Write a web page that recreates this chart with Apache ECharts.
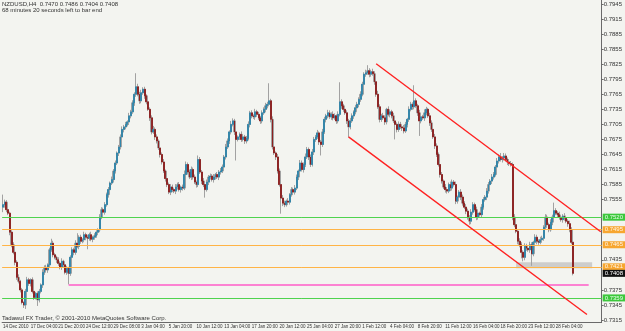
<!DOCTYPE html>
<html>
<head>
<meta charset="utf-8">
<title>NZDUSD,H4</title>
<script src="https://cdn.jsdelivr.net/npm/echarts@6/dist/echarts.min.js"></script>
<style>
  html, body { margin: 0; padding: 0; background: #f3f4f0; }
  #chart { width: 625px; height: 331px; }
</style>
</head>
<body>
<div id="chart"></div>
<script>
  // NZDUSD H4 candles, prices kept in pips above 0.7000
  var firstOpen = 540
  var closePips = [
    545,550,535,528,490,465,450,430,400,392,
    375,350,345,372,395,388,395,372,360,368,
    355,372,385,410,420,415,425,455,468,445,
    440,435,428,420,432,425,410,418,408,440,
    455,450,468,462,480,472,475,485,480,478,
    485,476,480,483,490,495,520,535,530,545,
    565,575,588,595,612,628,648,660,680,695,
    700,705,710,722,730,748,765,780,765,752,
    768,775,762,750,735,718,690,695,680,672,
    658,645,630,612,597,585,570,580,575,572,
    580,585,575,580,578,605,625,610,600,615,
    600,590,585,635,610,592,585,575,590,600,
    602,595,600,605,600,610,612,620,640,660,
    672,690,705,712,690,675,680,685,675,680,
    672,677,705,728,722,720,730,725,718,712,
    728,735,742,745,752,715,660,648,640,612,
    585,558,548,545,552,550,565,575,570,578,
    600,612,628,615,625,640,655,640,625,650,
    675,680,688,670,665,690,715,722,728,720,
    725,718,722,712,725,750,742,735,728,712,
    700,712,722,730,738,745,755,765,785,805,
    808,812,805,810,806,790,765,740,715,722,
    718,710,735,725,730,722,712,705,695,705,
    700,698,692,705,715,735,745,740,752,742,
    728,712,720,718,728,735,722,708,695,680,
    662,645,625,605,592,580,575,572,585,578,
    590,585,552,560,570,560,548,540,532,520,
    512,530,545,535,520,528,525,540,555,560,
    572,585,592,600,605,620,632,640,635,638,
    642,635,630,627,625,520,505,492,472,465,
    450,440,462,458,455,465,447,470,480,472,
    470,475,478,500,520,505,495,510,520,533,
    528,525,520,515,522,518,512,507,495,470,
    408
  ]
  // wick length above / below the body, pips
  var wickUp = [
    20,5,4,6,3,4,5,3,4,6, 3,4,2,5,6,4,3,5,4,3, 4,5,3,6,4,5,3,4,9,5, 4,3,5,4,6,3,4,5,3,4,
    5,4,6,20,4,5,3,6,4,5, 4,6,3,5,4,3,6,5,4,5, 4,5,3,6,4,5,3,4,5,6, 4,5,3,6,4,5,4,27,6,5,
    6,4,5,3,6,4,5,7,4,5, 3,5,4,6,3,5,4,6,5,4, 6,4,5,3,5,8,6,4,5,6, 4,5,3,8,5,4,6,3,5,4,
    5,4,6,3,5,4,6,5,4,6, 5,3,7,5,4,6,3,4,6,5, 4,5,6,4,5,3,6,4,5,4, 5,4,6,5,35,4,6,5,3,6,
    5,4,6,5,3,6,3,5,4,6, 5,3,6,5,4,7,5,4,5,6, 5,4,6,3,4,6,5,4,6,5, 4,6,5,3,6,39,5,4,6,5,
    4,6,5,3,6,5,4,6,5,4, 6,11,5,4,6,5,4,7,5,4, 6,5,3,6,5,4,6,5,4,6, 5,4,6,5,3,6,5,4,31,5,
    4,6,5,4,7,5,3,6,5,4, 6,5,4,6,5,3,6,5,4,6, 5,4,6,3,4,6,5,4,6,5, 4,6,5,4,6,5,3,6,5,4,
    6,5,4,6,5,4,6,5,8,4, 6,5,4,6,5,4,6,5,3,6, 5,4,6,5,4,6,5,3,6,5, 4,6,5,4,6,5,4,6,5,16,
    5,4,6,5,4,6,5,4,6,5, 16
  ]
  var wickDn = [
    10,6,5,4,6,5,4,6,5,4, 5,4,6,8,4,5,6,4,5,4, 12,5,4,6,5,4,6,5,4,5, 4,6,5,4,5,6,4,5,22,5,
    4,6,5,4,6,5,4,5,6,22, 5,4,6,5,4,6,5,4,6,5, 4,6,5,4,6,5,4,6,5,4, 6,5,4,6,5,4,6,5,4,6,
    5,4,6,5,3,6,5,4,6,5, 4,6,5,4,6,5,4,6,5,4, 6,5,4,6,5,4,6,5,4,6, 5,4,6,5,4,6,5,16,4,6,
    5,4,6,5,4,6,5,4,6,5, 4,6,5,4,6,42,4,6,5,4, 6,5,4,6,5,4,6,5,4,6, 5,4,6,5,4,6,5,4,6,5,
    4,31,6,5,4,6,5,4,6,5, 4,6,5,4,6,5,4,6,5,4, 6,5,4,6,22,5,4,6,5,4, 6,5,4,6,5,4,6,5,4,6,
    21,5,4,6,5,4,6,5,4,6, 5,4,6,5,4,6,5,4,6,5, 4,6,5,4,6,5,4,30,6,5, 4,6,5,4,6,5,4,6,5,4,
    6,30,5,4,6,5,4,6,5,4, 6,5,4,6,5,4,6,5,4,6, 5,4,6,5,4,6,5,4,6,5, 7,6,5,4,6,5,4,6,5,4,
    6,5,4,6,5,4,6,5,4,6, 5,4,6,5,4,6,5,4,6,5, 12,8,6,5,4,6,24,5,4,6, 5,4,6,5,4,6,5,4,6,5,
    4,6,5,4,6,5,4,6,5,4, 4
  ]
  var tickLabels = ['14 Dec 2010','17 Dec 04:00','21 Dec 20:00','24 Dec 12:00','29 Dec 08:00','3 Jan 04:00',
    '5 Jan 20:00','10 Jan 12:00','13 Jan 04:00','17 Jan 20:00','20 Jan 12:00','25 Jan 04:00','27 Jan 20:00',
    '1 Feb 12:00','4 Feb 04:00','8 Feb 20:00','11 Feb 12:00','16 Feb 04:00','18 Feb 20:00','23 Feb 12:00','28 Feb 04:00']
  var labelStep = 16
  var shiftBars = 16
  var priceLabels = ['0.7315','0.7345','0.7375','0.7435','0.7555','0.7585','0.7615','0.7645','0.7675','0.7705',
    '0.7735','0.7765','0.7795','0.7825','0.7855','0.7885','0.7915','0.7945']
  var priceMin = 0.7311
  var priceMax = 0.7953

  var greenLevels = [0.7520, 0.7359]
  var orangeLevels = [0.7495, 0.7465, 0.7421]
  var bidPrice = 0.7408
  var pinkLine = [[38, 0.7386], [339, 0.7386]]
  var channelUpper = [[216, 0.7826], [346, 0.7491]]
  var channelLower = [[200, 0.7680], [338, 0.7326]]
  var greyZone = [[297, 0.7430], [341, 0.7418]]

  var headerText = 'NZDUSD,H4  0.7470 0.7486 0.7404 0.7408'
  var timerText = '68 minutes 20 seconds left to bar end'
  var footText = 'Tadawul FX Trader, \u00a9 2001-2010 MetaQuotes Software Corp.'

  function px (p) { return (7000 + p) / 10000 }

  var cats = []
  var wickData = []
  var bodyData = []
  var prev = firstOpen
  for (var i = 0; i < closePips.length; i++) {
    var o = prev, c = closePips[i]
    var hi = Math.max(o, c), lo = Math.min(o, c)
    wickData.push([px(o), px(c), px(lo - wickDn[i]), px(hi + wickUp[i])])
    bodyData.push([px(o), px(c), px(lo), px(hi)])
    prev = c
  }
  for (var k = 0; k < closePips.length + shiftBars; k++) cats.push(String(k))

  var font = 'Liberation Sans'
  function showTick (idx) { return idx % labelStep === 0 && idx / labelStep < tickLabels.length }

  // one empty series per group of levels, the lines come from markLine
  function levelSeries (values, line, bg, fg, z) {
    return {
      type: 'line',
      data: [],
      z: z,
      markLine: {
        silent: true,
        precision: 4,
        symbol: ['none', 'none'],
        lineStyle: { color: line || 'transparent', width: line ? 1 : 0, type: 'solid' },
        label: {
          show: true, position: 'end', distance: 1,
          formatter: function (p) { return Number(p.value).toFixed(4) },
          backgroundColor: bg, color: fg, fontSize: 6, fontFamily: font,
          padding: [0, 2, 0, 2], lineHeight: 7
        },
        data: values.map(function (v) { return { yAxis: v } })
      }
    }
  }
  function segmentSeries (lines, color, width) {
    return {
      type: 'line',
      data: [],
      z: 4,
      markLine: {
        silent: true,
        precision: 4,
        symbol: ['none', 'none'],
        lineStyle: { color: color, width: width, type: 'solid' },
        label: { show: false },
        data: lines.map(function (pts) { return [{ coord: pts[0] }, { coord: pts[1] }] })
      }
    }
  }

  var chart = echarts.init(document.getElementById('chart'))
  chart.setOption({
    backgroundColor: '#f3f4f0',
    animation: false,
    grid: { left: 1, right: 17, top: 0, bottom: 9 },
    xAxis: {
      type: 'category',
      data: cats,
      boundaryGap: true,
      axisLine: { lineStyle: { color: '#6a6a6a' } },
      axisTick: { interval: function (idx) { return showTick(idx) }, length: 2, alignWithLabel: true, lineStyle: { color: '#6a6a6a' } },
      axisLabel: {
        interval: function (idx) { return showTick(idx) },
        formatter: function (val, idx) { return tickLabels[idx / labelStep] },
        showMinLabel: true, hideOverlap: false,
        fontSize: 4.5, fontFamily: font, color: '#333', margin: 2, align: 'left'
      },
      splitLine: { show: false }
    },
    yAxis: {
      type: 'value',
      position: 'right',
      min: priceMin,
      max: priceMax,
      axisLine: { show: true, lineStyle: { color: '#6a6a6a' } },
      axisTick: { show: true, length: 2, customValues: priceLabels.map(Number), lineStyle: { color: '#6a6a6a' } },
      axisLabel: {
        customValues: priceLabels.map(Number),
        formatter: function (v) { return v.toFixed(4) },
        fontSize: 6, fontFamily: font, color: '#333', margin: 2
      },
      splitLine: { show: false }
    },
    graphic: [
      { type: 'text', left: 2, top: 1, style: { text: headerText, font: '6px "' + font + '"', fill: '#333' } },
      { type: 'text', left: 2, top: 7, style: { text: timerText, font: '6px "' + font + '"', fill: '#333' } },
      { type: 'text', left: 2, top: 315, style: { text: footText, font: '6px "' + font + '"', fill: '#333' } }
    ],
    series: [
      levelSeries(greenLevels, '#4fd34f', '#3cc83c', '#eaffea', 1),
      levelSeries(orangeLevels, '#ffb446', '#f7a630', '#fff6e6', 6),
      levelSeries([bidPrice], null, '#111111', '#ffffff', 7),
      segmentSeries([pinkLine], '#ff5cc8', 1.5),
      {
        type: 'candlestick',
        data: wickData,
        barWidth: 1.8,
        itemStyle: { color: '#cfcfcf', color0: '#cfcfcf', borderColor: '#a2a2a2', borderColor0: '#a2a2a2', borderWidth: 1 },
        markArea: {
          silent: true,
          label: { show: false },
          itemStyle: { color: 'rgba(185,185,185,0.65)' },
          data: [[{ coord: greyZone[0] }, { coord: greyZone[1] }]]
        }
      },
      {
        type: 'candlestick',
        data: bodyData,
        barWidth: 1.4,
        itemStyle: { color: '#2a83a9', color0: '#8a1818', borderColor: '#2a83a9', borderColor0: '#8a1818', borderWidth: 0.8 }
      },
      segmentSeries([channelUpper, channelLower], '#ff2222', 1.4)
    ]
  })
</script>
</body>
</html>
